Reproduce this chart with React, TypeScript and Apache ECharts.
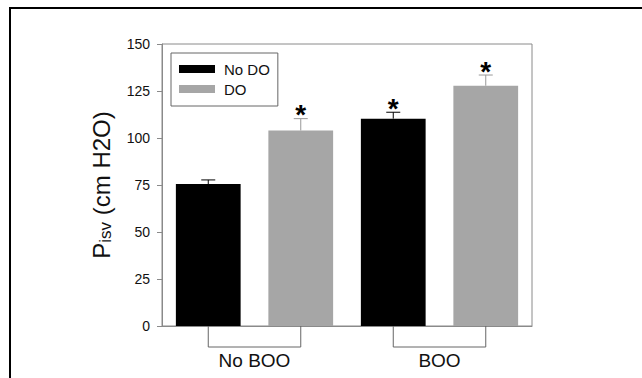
import React, { useEffect, useRef } from "react";
import * as echarts from "echarts";

const slots = ["No BOO|No DO", "No BOO|DO", "BOO|No DO", "BOO|DO"];
const groups = ["No BOO", "BOO"];
const noDO = [75.5, null, 110.3, null];
const withDO = [null, 104, null, 127.8];
const errUp = [2.2, 6.3, 3.4, 5.7];
const significant = [false, true, true, true];
const yTicks = [0, 25, 50, 75, 100, 125, 150];

const FONT = "Liberation Sans, Arial, sans-serif";
const GRAY = "#a6a6a6";

export default function App() {
  const ref = useRef<HTMLDivElement>(null);
  useEffect(() => {
    document.body.style.margin = "0";
    const chart = echarts.init(ref.current!, null, { renderer: "svg" });
    const values = slots.map((_, i) => (noDO[i] ?? withDO[i]) as number);
    const errData = slots.map((_, i) => [i, values[i], values[i] + errUp[i], significant[i] ? 1 : 0, noDO[i] != null ? 0 : 1]);
    const bracketData = groups.map((g, gi) => [gi * 2, gi * 2 + 1, g]);
    chart.setOption({
      animation: false,
      textStyle: { fontFamily: FONT },
      grid: { left: 162, right: 110, top: 44, bottom: 52, show: true, borderColor: "#8a8a8a", borderWidth: 1, containLabel: false },
      legend: {
        left: 171, top: 53, orient: "vertical",
        itemWidth: 36, itemHeight: 8, itemGap: 4,
        borderColor: "#666", borderWidth: 1, padding: [8, 8, 9, 8],
        textStyle: { fontSize: 15, color: "#111", fontFamily: FONT, lineHeight: 16, padding: [0, 0, 0, 4] },
        data: [{ name: "No DO", icon: "rect" }, { name: "DO", icon: "rect" }],
      },
      xAxis: {
        type: "category", data: slots,
        axisLine: { lineStyle: { color: "#8a8a8a" } },
        axisTick: { show: false }, axisLabel: { show: false },
      },
      yAxis: {
        type: "value", min: yTicks[0], max: yTicks[yTicks.length - 1], interval: 25,
        axisLine: { show: true, lineStyle: { color: "#8a8a8a" } },
        axisTick: { show: true, length: 5, lineStyle: { color: "#8a8a8a" } },
        axisLabel: { fontSize: 14, color: "#111", margin: 12, fontFamily: FONT },
        splitLine: { show: false },
      },
      graphic: [
        { type: "rect", shape: { x: 10, y: 8, width: 800, height: 600 }, style: { fill: "none", stroke: "#000", lineWidth: 2 }, silent: true },
        {
          type: "text", x: 101, y: 185, rotation: Math.PI / 2,
          style: {
            text: "{a|P}{s|isv}{a| (cm H2O)}", align: "center", verticalAlign: "middle",
            fill: "#111",
            rich: {
              a: { fontSize: 24, fontFamily: FONT, lineHeight: 26, fill: "#111" },
              s: { fontSize: 17, fontFamily: FONT, lineHeight: 14, verticalAlign: "bottom", fill: "#111" },
            },
          },
        },
      ],
      series: [
        { name: "No DO", type: "bar", data: noDO, barWidth: "70%", barGap: "-100%", itemStyle: { color: "#000" } },
        { name: "DO", type: "bar", data: withDO, barWidth: "70%", barGap: "-100%", itemStyle: { color: GRAY } },
        {
          type: "custom", data: errData, z: 5, silent: true,
          renderItem: (params: any, api: any) => {
            const i = api.value(0);
            const base = api.coord([i, api.value(1)]);
            const top = api.coord([i, api.value(2)]);
            const color = api.value(4) === 0 ? "#000" : "#999";
            const children: any[] = [
              { type: "line", shape: { x1: base[0], y1: base[1], x2: top[0], y2: top[1] }, style: { stroke: color, lineWidth: 1 } },
              { type: "line", shape: { x1: top[0] - 7, y1: top[1], x2: top[0] + 7, y2: top[1] }, style: { stroke: color, lineWidth: 1 } },
            ];
            if (api.value(3) === 1) {
              children.push({ type: "text", x: top[0], y: top[1] - 4, style: { text: "*", fontSize: 28, fontWeight: "bold", fontFamily: FONT, fill: "#000", align: "center", verticalAlign: "middle" } });
            }
            return { type: "group", children };
          },
        },
        {
          type: "custom", data: bracketData, z: 5, silent: true,
          renderItem: (params: any, api: any) => {
            const a = api.coord([api.value(0), 0]);
            const b = api.coord([api.value(1), 0]);
            const drop = 21;
            return {
              type: "group",
              children: [
                { type: "polyline", shape: { points: [[a[0], a[1]], [a[0], a[1] + drop], [b[0], b[1] + drop], [b[0], b[1]]] }, style: { stroke: "#666", lineWidth: 1, fill: "none" } },
                { type: "text", x: (a[0] + b[0]) / 2, y: a[1] + 34, style: { text: bracketData[params.dataIndex][2] as string, fontSize: 19, fontFamily: FONT, fill: "#111", align: "center", verticalAlign: "middle" } },
              ],
            };
          },
        },
      ],
    });
    return () => chart.dispose();
  }, []);
  return <div ref={ref} style={{ width: 642, height: 378 }} />;
}
